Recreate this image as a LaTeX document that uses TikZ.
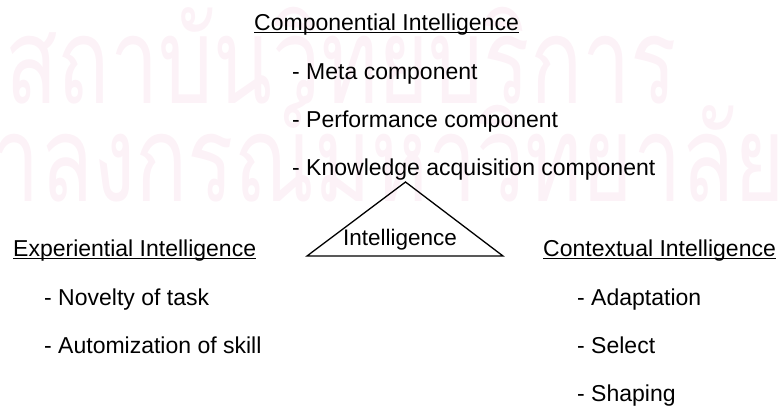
\documentclass[tikz,border=0pt]{standalone}
\usepackage{fontspec}
\setmainfont{Liberation Sans}
\newfontfamily\thaifont[Script=Thai]{Loma}
\definecolor{wmark}{RGB}{252,242,247}
\begin{document}
\begin{tikzpicture}[x=1pt,y=-1pt,
  txt/.style={inner sep=0pt,anchor=base west,font=\fontsize{23}{27}\selectfont},
  wm/.style={inner sep=0pt,anchor=base west,text=wmark,font=\thaifont\fontsize{120}{130}\selectfont},
  uline/.style={line width=1pt}]
\useasboundingbox (0,0) rectangle (780,407);
% watermark
\node[wm] (wm1) at (5,103) {\scalebox{0.72}[1]{สถาบันวิทยบริการ}};
\node[wm] (wm2) at (-118,201) {\scalebox{0.72}[1]{จุฬาลงกรณ์มหาวิทยาลัย}};
% texts
\node[txt] (comp) at (254,30) {Componential Intelligence};
\draw[uline] ([yshift=-2.5pt]comp.base west) -- ([yshift=-2.5pt]comp.base east);
\node[txt] (meta) at (292,79) {- Meta component};
\node[txt] (perf) at (292,127) {- Performance component};
\node[txt] (know) at (292,175) {- Knowledge acquisition component};
\node[txt] (exp) at (13,256) {Experiential Intelligence};
\draw[uline] ([yshift=-2.5pt]exp.base west) -- ([yshift=-2.5pt]exp.base east);
\node[txt] (nov) at (44,305) {- Novelty of task};
\node[txt] (aut) at (44,353) {- Automization of skill};
\node[txt] (ctx) at (543,256) {Contextual Intelligence};
\draw[uline] ([yshift=-2.5pt]ctx.base west) -- ([yshift=-2.5pt]ctx.base east);
\node[txt] (ada) at (577,305) {- Adaptation};
\node[txt] (sel) at (577,353) {- Select};
\node[txt] (sha) at (577,401) {- Shaping};
% triangle
\coordinate (apex) at (405.5,182);
\coordinate (bl) at (307,256);
\coordinate (br) at (503,256);
\draw[line width=1.3pt,line join=miter] (bl) -- (apex) -- (br) -- cycle;
\node[txt,font=\fontsize{22.5}{27}\selectfont] (intel) at (343,245.5) {Intelligence};
\end{tikzpicture}
\end{document}
